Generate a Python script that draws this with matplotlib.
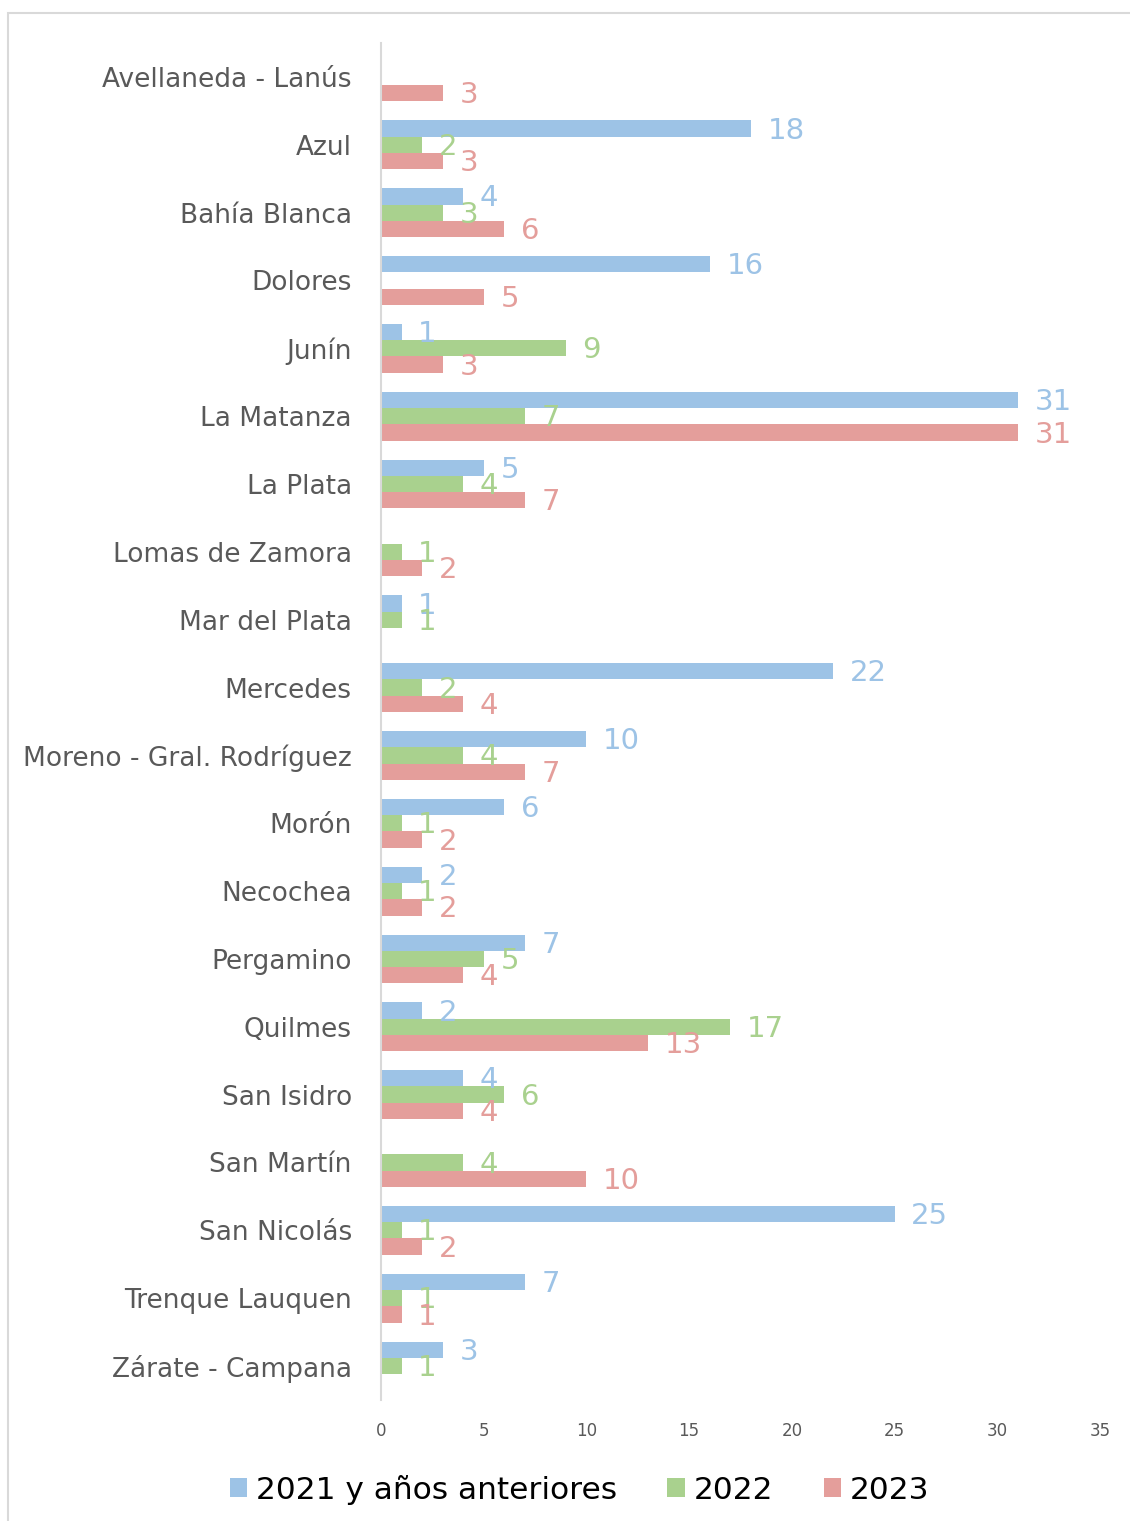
import numpy as np
import matplotlib.pyplot as plt
from matplotlib.patches import Rectangle, Patch

# Data
categories = ["Avellaneda - Lanús", "Azul", "Bahía Blanca", "Dolores", "Junín",
              "La Matanza", "La Plata", "Lomas de Zamora", "Mar del Plata", "Mercedes",
              "Moreno - Gral. Rodríguez", "Morón", "Necochea", "Pergamino", "Quilmes",
              "San Isidro", "San Martín", "San Nicolás", "Trenque Lauquen", "Zárate - Campana"]
v2021 = [0, 18, 4, 16, 1, 31, 5, 0, 1, 22, 10, 6, 2, 7, 2, 4, 0, 25, 7, 3]
v2022 = [0, 2, 3, 0, 9, 7, 4, 1, 1, 2, 4, 1, 1, 5, 17, 6, 4, 1, 1, 1]
v2023 = [3, 3, 6, 5, 3, 31, 7, 2, 0, 4, 7, 2, 2, 4, 13, 4, 10, 2, 1, 0]
series_names = ["2021 y años anteriores", "2022", "2023"]
colors = ["#9dc3e6", "#a9d18e", "#e49e9b"]

fig = plt.figure(figsize=(11.3, 15.21), dpi=100)
ax = fig.add_axes([0.3372, 0.0796, 0.6363, 0.8921])

# outer chart frame
fig.patches.append(Rectangle((8 / 1130, -0.01), 1.1, 1 - 13 / 1521 + 0.01,
                             transform=fig.transFigure, fill=False,
                             edgecolor="#d9d9d9", linewidth=1.5))

y = np.arange(len(categories))
h = 0.24
for vals, off, col in zip([v2021, v2022, v2023], [-h, 0, h], colors):
    ax.barh(y + off, vals, height=h, color=col, linewidth=0)
    for yy, v in zip(y + off, vals):
        if v == 0:
            continue
        ax.annotate(str(v), (v, yy), xytext=(12, -1.5), textcoords="offset points",
                    ha="left", va="center", fontsize=21, color=col)

ax.set_xlim(0, 35)
ax.set_ylim(len(categories) - 0.5, -0.5)
ax.set_xticks(range(0, 36, 5))
ax.set_yticks(y)
ax.set_yticklabels(categories, fontsize=19, color="#595959")
ax.tick_params(axis="y", length=0, pad=21)
ax.tick_params(axis="x", length=0, pad=16, labelsize=12, labelcolor="#595959")

for s in ["top", "right", "bottom"]:
    ax.spines[s].set_visible(False)
ax.spines["left"].set_color("#d9d9d9")
ax.spines["left"].set_linewidth(1.5)

handles = [Patch(facecolor=c, edgecolor="none") for c in colors]
fig.legend(handles, series_names, loc="center", bbox_to_anchor=(0.513, 0.0205),
           ncol=3, frameon=False, fontsize=22.5, handlelength=0.55, handleheight=0.55,
           handletextpad=0.3, columnspacing=1.6)

fig.savefig("out.png", dpi=100)
